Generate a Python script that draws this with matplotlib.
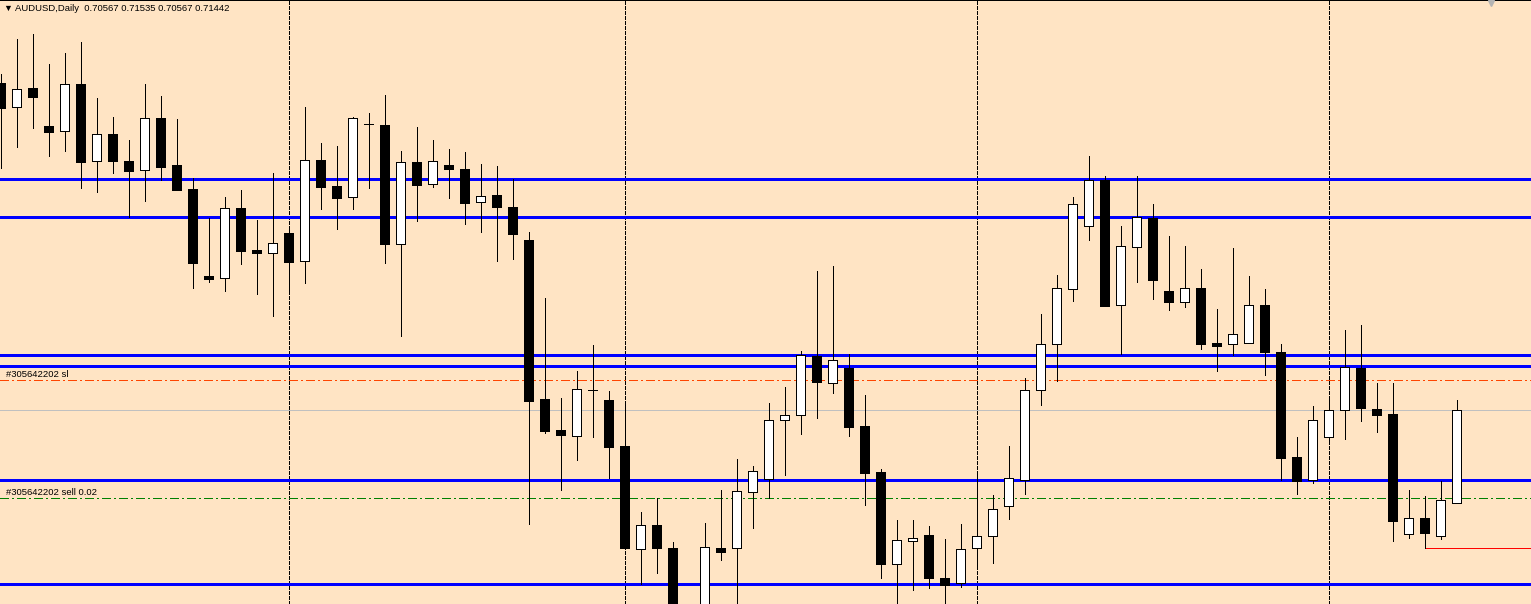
import matplotlib
matplotlib.use('Agg')
import numpy as np
import matplotlib.pyplot as plt
from matplotlib.transforms import blended_transform_factory

# AUDUSD daily candles (oldest -> newest)
opens = [0.74522, 0.74296, 0.74475, 0.74117, 0.74070, 0.74512, 0.73788, 0.74042, 0.73788, 0.73703,
         0.74192, 0.73750, 0.73524, 0.72706, 0.72687, 0.73345, 0.72950, 0.72922, 0.73110, 0.72847,
         0.73797, 0.73552, 0.73449, 0.74136, 0.74126, 0.73007, 0.73778, 0.73571, 0.73750, 0.73712,
         0.73402, 0.73468, 0.73355, 0.73044, 0.71548, 0.71257, 0.71200, 0.71633, 0.71539, 0.71106,
         0.70137, 0.70363, 0.70146, 0.69375, 0.69422, 0.70146, 0.70146, 0.70673, 0.70796, 0.71351,
         0.71398, 0.71953, 0.71699, 0.71840, 0.71294, 0.70862, 0.69996, 0.70212, 0.70269, 0.69864,
         0.69817, 0.70146, 0.70259, 0.70542, 0.70786, 0.71633, 0.72066, 0.72583, 0.73176, 0.73609,
         0.72433, 0.72979, 0.73251, 0.72565, 0.72461, 0.72593, 0.72075, 0.72066, 0.72075, 0.72433,
         0.71991, 0.71003, 0.70786, 0.71191, 0.71445, 0.71840, 0.71454, 0.71407, 0.70278, 0.70429,
         0.70259, 0.70567]
highs = [0.74606, 0.74936, 0.74983, 0.74700, 0.74804, 0.74907, 0.74380, 0.74202, 0.73985, 0.74512,
         0.74399, 0.74183, 0.73628, 0.73251, 0.73449, 0.73515, 0.73233, 0.73675, 0.73157, 0.74296,
         0.73957, 0.73929, 0.74202, 0.74239, 0.74409, 0.73882, 0.74108, 0.73985, 0.73901, 0.73872,
         0.73759, 0.73741, 0.73618, 0.73120, 0.72499, 0.71558, 0.71812, 0.72056, 0.71624, 0.71520,
         0.70485, 0.70617, 0.70203, 0.69591, 0.70382, 0.70692, 0.70984, 0.70918, 0.71511, 0.71661,
         0.72000, 0.72753, 0.72800, 0.71972, 0.71586, 0.70890, 0.70410, 0.70410, 0.70353, 0.70231,
         0.70372, 0.70843, 0.70645, 0.71106, 0.71746, 0.72348, 0.72715, 0.73449, 0.73835, 0.73647,
         0.73176, 0.73647, 0.73383, 0.73082, 0.72988, 0.72772, 0.72395, 0.72969, 0.72706, 0.72583,
         0.72066, 0.71191, 0.71482, 0.71539, 0.72198, 0.72245, 0.71699, 0.71699, 0.70692, 0.70636,
         0.70777, 0.71535]
lows = [0.73722, 0.73919, 0.74098, 0.73835, 0.73882, 0.73534, 0.73496, 0.73675, 0.73261, 0.73411,
        0.73609, 0.73515, 0.72593, 0.72649, 0.72565, 0.72819, 0.72536, 0.72329, 0.72565, 0.72640,
        0.73336, 0.73148, 0.73336, 0.73534, 0.72828, 0.72141, 0.73223, 0.73543, 0.73440, 0.73195,
        0.73120, 0.72847, 0.72866, 0.70372, 0.71228, 0.70692, 0.70974, 0.71191, 0.70805, 0.70146,
        0.69808, 0.69911, 0.69328, 0.69234, 0.69328, 0.70034, 0.69544, 0.70335, 0.70617, 0.70833,
        0.71219, 0.71370, 0.71605, 0.71200, 0.70551, 0.69864, 0.69563, 0.69751, 0.69770, 0.69563,
        0.69779, 0.69958, 0.70005, 0.70419, 0.70654, 0.71492, 0.71718, 0.72470, 0.73044, 0.72423,
        0.71972, 0.72649, 0.72489, 0.72386, 0.72414, 0.72019, 0.71812, 0.71962, 0.72075, 0.71774,
        0.70786, 0.70654, 0.70758, 0.71144, 0.71172, 0.71341, 0.71238, 0.70212, 0.70241, 0.70146,
        0.70231, 0.70567]
closes = [0.74286, 0.74465, 0.74390, 0.74061, 0.74512, 0.73778, 0.74042, 0.73788, 0.73694, 0.74192,
          0.73731, 0.73515, 0.72828, 0.72677, 0.73345, 0.72941, 0.72922, 0.73016, 0.72837, 0.73797,
          0.73543, 0.73440, 0.74192, 0.74136, 0.73007, 0.73778, 0.73562, 0.73788, 0.73712, 0.73392,
          0.73458, 0.73355, 0.73101, 0.71530, 0.71247, 0.71210, 0.71642, 0.71633, 0.71097, 0.70146,
          0.70363, 0.70146, 0.69469, 0.69544, 0.70156, 0.70109, 0.70683, 0.70871, 0.71351, 0.71398,
          0.71962, 0.71708, 0.71915, 0.71285, 0.70852, 0.69996, 0.70222, 0.70241, 0.69864, 0.69798,
          0.70137, 0.70259, 0.70513, 0.70805, 0.71633, 0.72066, 0.72593, 0.73383, 0.73609, 0.72423,
          0.72988, 0.73261, 0.72668, 0.72461, 0.72593, 0.72066, 0.72047, 0.72160, 0.72433, 0.71991,
          0.70993, 0.70777, 0.71351, 0.71445, 0.71849, 0.71464, 0.71398, 0.70400, 0.70429, 0.70288,
          0.70598, 0.71442]

# chart objects
blue_levels = [0.73616, 0.73258, 0.71960, 0.71859, 0.70783, 0.69805]
sl_level = 0.71724
entry_level = 0.70614
bid_level = 0.71442
red_level = 0.70146
red_start = 89
separators = [18, 39, 61, 83]
order_id = '#305642202'
symbol = 'AUDUSD,Daily'

W, H = 1531, 604
PX = 0.72  # one pixel in points at dpi 100
fig = plt.figure(figsize=(W / 100, H / 100), dpi=100)
ax = fig.add_axes([0, 0, 1, 1])
ax.set_facecolor('#FFE4C4')
fig.patch.set_facecolor('#FFE4C4')

x0 = -0.5 / 16
ax.set_xlim(x0, x0 + W / 16)
ax.set_ylim(0.696195, 0.753025)
for s in ['left', 'right', 'bottom']:
    ax.spines[s].set_visible(False)
ax.spines['top'].set_color('black')
ax.spines['top'].set_linewidth(2 * PX)
ax.set_xticks([])
ax.set_yticks([])

# period separators
for k in separators:
    ax.axvline(k, color='black', lw=PX, dashes=(3, 2), antialiased=False, zorder=1)

# horizontal lines
for lvl in blue_levels:
    ax.axhline(lvl, color='#0000FF', lw=3 * PX, antialiased=False, zorder=2)
ax.axhline(bid_level, color='#C0C0C0', lw=PX, antialiased=False, zorder=1.5)
ax.axhline(sl_level, color='#FF4500', lw=PX, dashes=(9, 4, 2, 4), antialiased=False, zorder=2)
ax.axhline(entry_level, color='#008000', lw=PX, dashes=(9, 4, 2, 4), antialiased=False, zorder=2)
ax.hlines(red_level, red_start, x0 + W / 16, color='#FF0000', lw=PX, antialiased=False, zorder=2)

# candles
o = np.array(opens)
c = np.array(closes)
idx = np.arange(len(o))
ax.vlines(idx, lows, highs, color='black', lw=PX, antialiased=False, zorder=3)
colors = ['white' if cc >= oo else 'black' for oo, cc in zip(o, c)]
ax.bar(idx, np.abs(c - o), bottom=np.minimum(o, c), width=0.62, color=colors,
       edgecolor='black', linewidth=PX, antialiased=False, zorder=4)

# texts
fam = ['Liberation Sans', 'DejaVu Sans']
trans = blended_transform_factory(ax.transAxes, ax.transData)
ax.annotate(order_id + ' sl', xy=(0, sl_level), xycoords=trans, xytext=(4.3, 1.2),
            textcoords='offset points', va='bottom', fontsize=6.8, family=fam, zorder=5)
ax.annotate(order_id + ' sell 0.02', xy=(0, entry_level), xycoords=trans, xytext=(4.3, 1.2),
            textcoords='offset points', va='bottom', fontsize=6.8, family=fam, zorder=5)

header = '%s  %.5f %.5f %.5f %.5f' % (symbol, opens[-1], highs[-1], lows[-1], closes[-1])
fig.text(15 / W, 1 - 8.5 / H, header, va='center', ha='left', fontsize=6.8, family=fam)
fig.text(3 / W, 1 - 8.5 / H, '\u25bc', va='center', ha='left', fontsize=6.5, family=fam)

# shift marker at top right
ax.plot([1491 / W], [1 - 2.5 / H], marker='v', markersize=5, color='#B4B4B4',
        transform=ax.transAxes, clip_on=False, zorder=6)

fig.savefig('out.png', dpi=100, facecolor=fig.get_facecolor())
